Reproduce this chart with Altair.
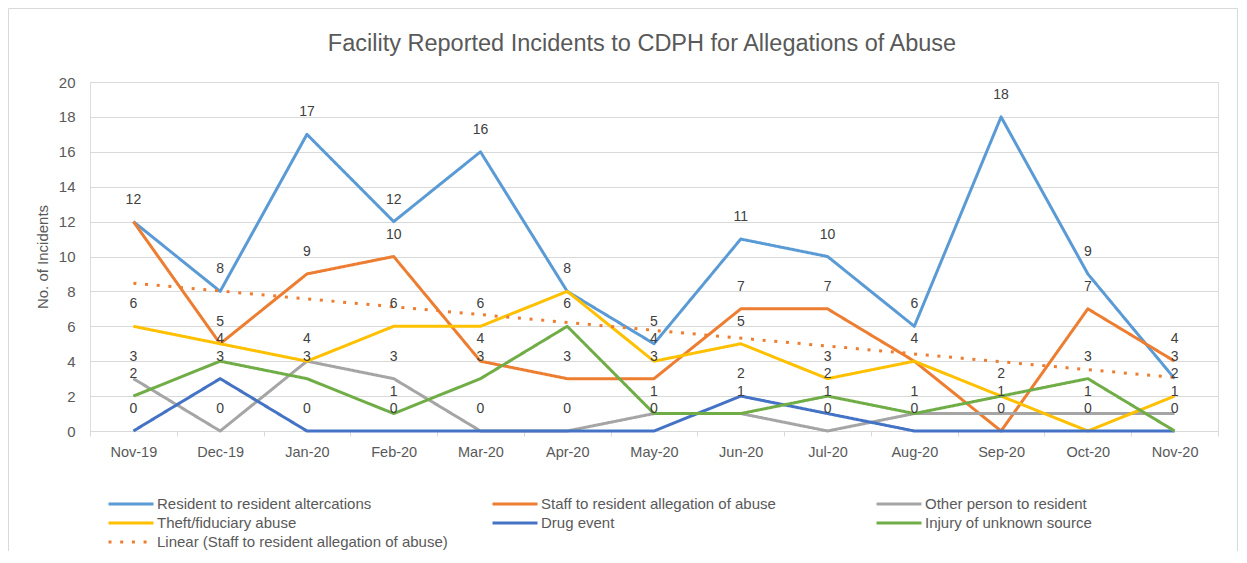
import altair as alt
import pandas as pd

months = ["Nov-19", "Dec-19", "Jan-20", "Feb-20", "Mar-20", "Apr-20", "May-20",
          "Jun-20", "Jul-20", "Aug-20", "Sep-20", "Oct-20", "Nov-20"]

series_names = ["Resident to resident altercations",
                "Staff to resident allegation of abuse",
                "Other person to resident",
                "Theft/fiduciary abuse",
                "Drug event",
                "Injury of unknown source"]
trend_name = "Linear (Staff to resident allegation of abuse)"

resident = [12, 8, 17, 12, 16, 8, 5, 11, 10, 6, 18, 9, 3]
staff = [12, 5, 9, 10, 4, 3, 3, 7, 7, 4, 0, 7, 4]
other = [3, 0, 4, 3, 0, 0, 1, 1, 0, 1, 1, 1, 1]
theft = [6, 5, 4, 6, 6, 8, 4, 5, 3, 4, 2, 0, 2]
drug = [0, 3, 0, 0, 0, 0, 0, 2, 1, 0, 0, 0, 0]
injury = [2, 4, 3, 1, 3, 6, 1, 1, 2, 1, 2, 3, 0]

colors = ["#5B9BD5", "#ED7D31", "#A5A5A5", "#FFC000", "#4472C4", "#70AD47", "#ED7D31"]

values_by_series = [resident, staff, other, theft, drug, injury]
rows = []
for s_i, (name, vals) in enumerate(zip(series_names, values_by_series)):
    for m_i, (m, v) in enumerate(zip(months, vals)):
        rows.append({"month": m, "idx": m_i, "series": name, "order": s_i, "value": v})
df = pd.DataFrame(rows)

all_names = series_names + [trend_name]
dash_range = [[1, 0]] * 6 + [[3, 8.7]]

FONT = "Liberation Sans"
GREY_TXT = "#595959"
GRID = "#D9D9D9"

x_enc = alt.X(
    "month:N",
    sort=months,
    bandPosition=0.5,
    scale=alt.Scale(type="band", domain=months, paddingInner=0, paddingOuter=0),
    axis=alt.Axis(title=None, labelAngle=0, tickBand="extent", ticks=True, tickSize=5,
                  tickColor=GRID, domainColor=GRID, labelColor=GREY_TXT,
                  labelFontSize=14.5, labelPadding=9, grid=False),
)
y_enc = alt.Y(
    "value:Q",
    scale=alt.Scale(domain=[0, 20], nice=False),
    axis=alt.Axis(values=list(range(0, 21, 2)), title="No. of Incidents", grid=True,
                  gridColor=GRID, domain=False, ticks=False, labelPadding=15,
                  labelColor=GREY_TXT, labelFontSize=15, titleX=-40, titleY=174.5,
                  titleFontSize=15, titleColor=GREY_TXT, titleFontWeight="normal"),
)

legend = alt.Legend(title=None, orient="none", direction="horizontal",
                    legendX=32, legendY=413, columns=3,
                    gridAlign="all", columnPadding=38, rowPadding=2,
                    labelFontSize=15, labelColor=GREY_TXT, labelLimit=500,
                    symbolType="M-3,0H3", symbolSize=225, symbolStrokeWidth=3,
                    labelOffset=17, padding=0)

color_enc = alt.Color("series:N", scale=alt.Scale(domain=all_names, range=colors), legend=legend)
dash_enc = alt.StrokeDash("series:N", scale=alt.Scale(domain=all_names, range=dash_range), legend=legend)

base = alt.Chart(df)

lines = base.mark_line(strokeWidth=3, strokeJoin="round").encode(
    x=x_enc, y=y_enc, color=color_enc, strokeDash=dash_enc, detail="series:N"
)

month_expr = "[" + ",".join("'" + m + "'" for m in months) + "][datum.idx]"
trend = base.transform_filter(
    alt.datum.series == series_names[1]
).transform_regression(
    "idx", "value", method="linear"
).transform_calculate(
    month=month_expr, series="'" + trend_name + "'"
).mark_line(strokeWidth=3, strokeCap="butt").encode(
    x=x_enc, y=y_enc, color=color_enc, strokeDash=dash_enc
)

# one label per distinct (month, value) so coincident labels are not drawn twice
labels = base.transform_aggregate(
    n="count()", groupby=["month", "value"]
).mark_text(dy=-22, baseline="middle", fontSize=14, color="#404040", font=FONT).encode(
    x=x_enc, y=y_enc, text="value:Q"
)

frame = alt.Chart(alt.Data(values=[{"a": 1}])).mark_rect(
    fill=None, stroke=GRID, strokeWidth=1
).encode(
    x=alt.value(-81.5), x2=alt.value(1147.5), y=alt.value(-73.5), y2=alt.value(500)
)

chart = alt.layer(frame, lines, trend, labels).properties(
    width=1128,
    height=349,
    title=alt.TitleParams(
        "Facility Reported Incidents to CDPH for Allegations of Abuse",
        fontSize=23.5, color=GREY_TXT, fontWeight="normal", font=FONT,
        anchor="middle", frame="group", offset=-66, baseline="alphabetic", dx=-12,
    ),
    autosize=alt.AutoSizeParams(type="none"),
    padding={"left": 82, "top": 74, "right": 21, "bottom": 120},
).configure_view(stroke=None).configure(font=FONT).configure_axis(labelFont=FONT, titleFont=FONT).configure_legend(labelFont=FONT)

chart.save("out.html", embed_options={"renderer": "svg", "actions": False})
